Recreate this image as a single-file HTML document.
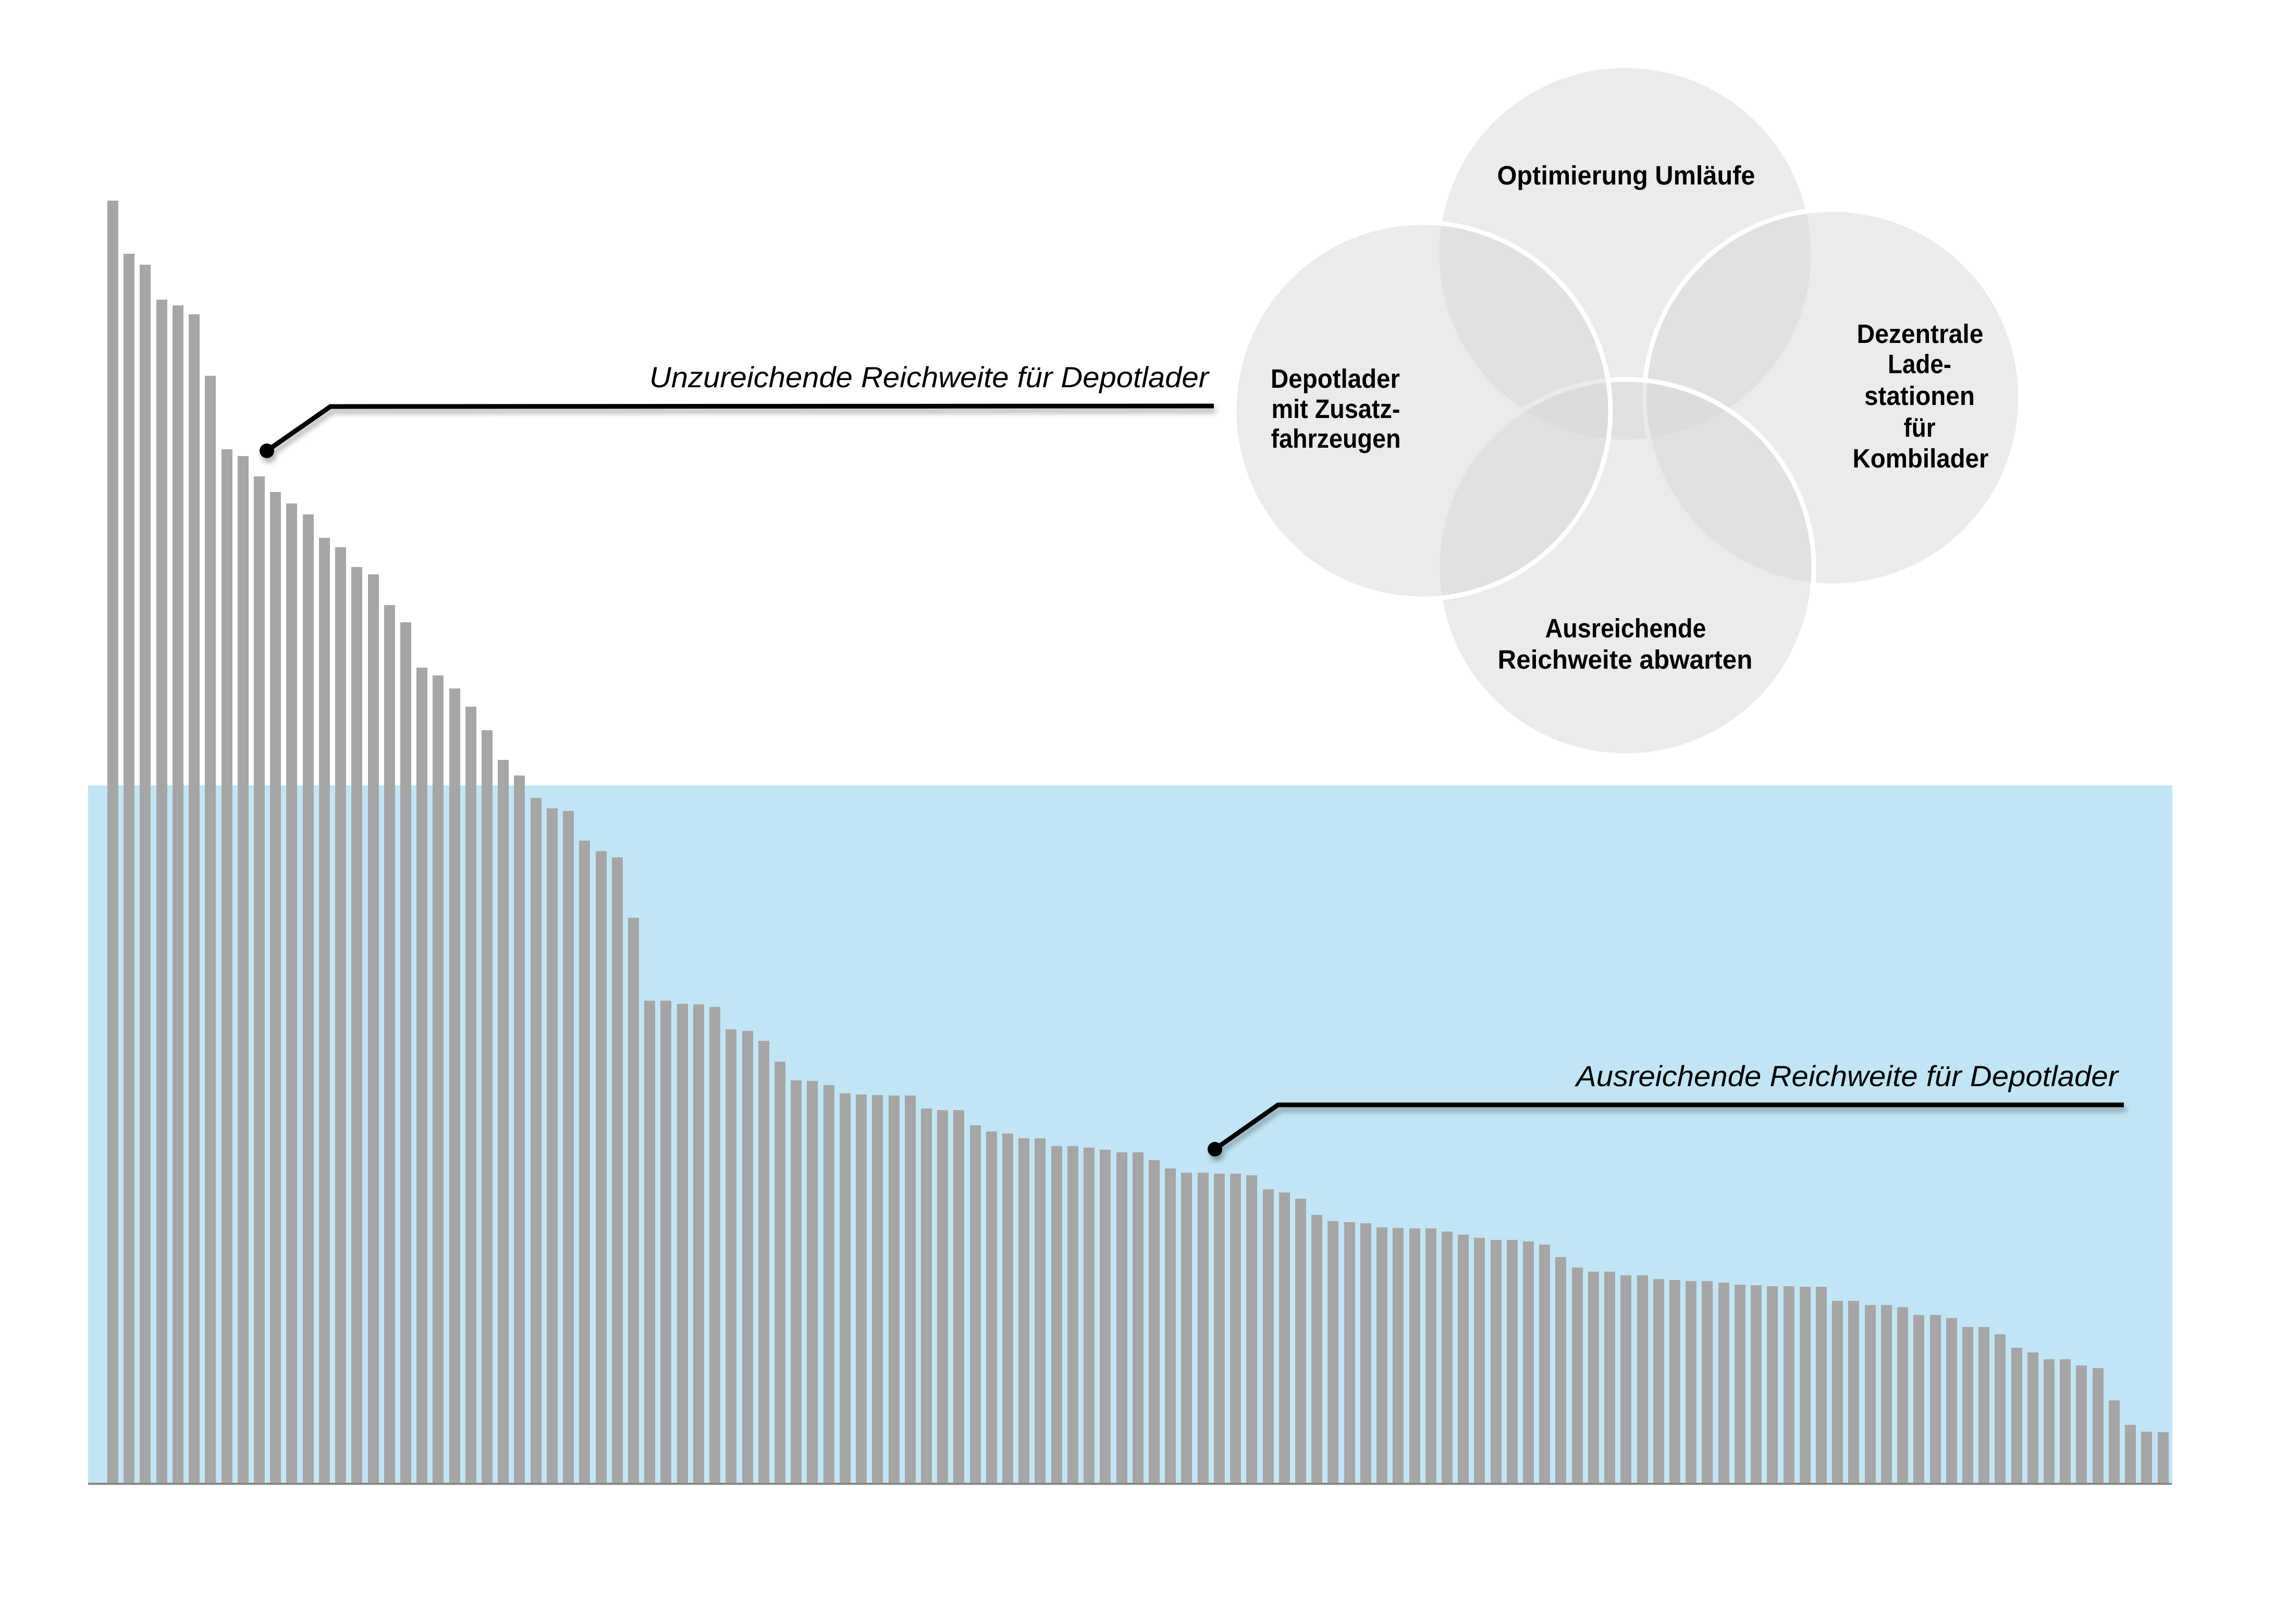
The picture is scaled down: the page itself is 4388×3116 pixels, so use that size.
<!DOCTYPE html>
<html>
<head>
<meta charset="utf-8">
<style>
  html, body { margin:0; padding:0; background:#ffffff; }
  #page { position:relative; width:4388px; height:3116px; overflow:hidden; background:#ffffff; }
  #blue { position:absolute; left:169px; top:1507px; width:3999px; height:1339px; background:#c1e5f4; }
  #bars { position:absolute; left:206px; top:0; height:2846px; display:flex; align-items:flex-end; column-gap:10.22px; }
  #bars div { width:21px; flex:0 0 21px; background:#a6a6a6; }
  #axis { position:absolute; left:169px; top:2845px; width:3998px; height:3.5px; background:#888888; }
  svg { position:absolute; left:0; top:0; }
</style>
</head>
<body>
<div id="page">
  <div id="blue"></div>
  <div id="bars">
    <div style="height:2461px"></div><div style="height:2359px"></div><div style="height:2338px"></div><div style="height:2271px"></div><div style="height:2260px"></div>
    <div style="height:2243px"></div><div style="height:2125px"></div><div style="height:1984px"></div><div style="height:1971px"></div><div style="height:1932px"></div>
    <div style="height:1902px"></div><div style="height:1880px"></div><div style="height:1859px"></div><div style="height:1814px"></div><div style="height:1796px"></div>
    <div style="height:1758px"></div><div style="height:1744px"></div><div style="height:1685px"></div><div style="height:1652px"></div><div style="height:1565px"></div>
    <div style="height:1550px"></div><div style="height:1525px"></div><div style="height:1490px"></div><div style="height:1445px"></div><div style="height:1388px"></div>
    <div style="height:1358px"></div><div style="height:1315px"></div><div style="height:1295px"></div><div style="height:1290px"></div><div style="height:1233px"></div>
    <div style="height:1213px"></div><div style="height:1201px"></div><div style="height:1085px"></div><div style="height:926px"></div><div style="height:926px"></div>
    <div style="height:920px"></div><div style="height:919px"></div><div style="height:914px"></div><div style="height:871px"></div><div style="height:868px"></div>
    <div style="height:849px"></div><div style="height:809px"></div><div style="height:773px"></div><div style="height:772px"></div><div style="height:764px"></div>
    <div style="height:748px"></div><div style="height:746px"></div><div style="height:745px"></div><div style="height:744px"></div><div style="height:744px"></div>
    <div style="height:719px"></div><div style="height:716px"></div><div style="height:716px"></div><div style="height:687px"></div><div style="height:675px"></div>
    <div style="height:671px"></div><div style="height:662px"></div><div style="height:662px"></div><div style="height:647px"></div><div style="height:647px"></div>
    <div style="height:644px"></div><div style="height:640px"></div><div style="height:635px"></div><div style="height:635px"></div><div style="height:620px"></div>
    <div style="height:604px"></div><div style="height:596px"></div><div style="height:596px"></div><div style="height:594px"></div><div style="height:594px"></div>
    <div style="height:591px"></div><div style="height:564px"></div><div style="height:558px"></div><div style="height:546px"></div><div style="height:515px"></div>
    <div style="height:503px"></div><div style="height:501px"></div><div style="height:499px"></div><div style="height:491px"></div><div style="height:490px"></div>
    <div style="height:489px"></div><div style="height:489px"></div><div style="height:483px"></div><div style="height:477px"></div><div style="height:471px"></div>
    <div style="height:467px"></div><div style="height:467px"></div><div style="height:464px"></div><div style="height:458px"></div><div style="height:434px"></div>
    <div style="height:414px"></div><div style="height:406px"></div><div style="height:406px"></div><div style="height:399px"></div><div style="height:399px"></div>
    <div style="height:392px"></div><div style="height:390px"></div><div style="height:388px"></div><div style="height:388px"></div><div style="height:385px"></div>
    <div style="height:381px"></div><div style="height:380px"></div><div style="height:378px"></div><div style="height:378px"></div><div style="height:377px"></div>
    <div style="height:377px"></div><div style="height:350px"></div><div style="height:350px"></div><div style="height:342px"></div><div style="height:342px"></div>
    <div style="height:338px"></div><div style="height:323px"></div><div style="height:323px"></div><div style="height:317px"></div><div style="height:300px"></div>
    <div style="height:300px"></div><div style="height:286px"></div><div style="height:260px"></div><div style="height:251px"></div><div style="height:238px"></div>
    <div style="height:238px"></div><div style="height:226px"></div><div style="height:221px"></div><div style="height:159px"></div><div style="height:112px"></div>
    <div style="height:99px"></div><div style="height:98px"></div>
  </div>
  <div id="axis"></div>

  <svg width="4388" height="3116" viewBox="0 0 4388 3116" xmlns="http://www.w3.org/2000/svg">
    <defs>
      <filter id="sh" x="-5%" y="-50%" width="110%" height="200%">
        <feDropShadow dx="4" dy="9" stdDeviation="5" flood-color="#000" flood-opacity="0.3"/>
      </filter>
    </defs>

    <!-- Venn circles: order top, right, bottom, left -->
    <g fill="#d7d7d7" fill-opacity="0.5" stroke="#ffffff" stroke-width="9">
      <circle cx="3118" cy="487" r="361"/>
      <circle cx="3516" cy="763" r="361"/>
      <circle cx="3119" cy="1089" r="361"/>
      <circle cx="2729" cy="788" r="361"/>
    </g>

    <g font-family="'Liberation Sans', sans-serif" font-weight="bold" font-size="51" fill="#000" text-anchor="middle">
      <text x="3120" y="354" textLength="495" lengthAdjust="spacingAndGlyphs">Optimierung Umläufe</text>
      <text x="2562" y="744" textLength="248" lengthAdjust="spacingAndGlyphs">Depotlader</text>
      <text x="2563" y="802" textLength="247" lengthAdjust="spacingAndGlyphs">mit Zusatz-</text>
      <text x="2563" y="859" textLength="249" lengthAdjust="spacingAndGlyphs">fahrzeugen</text>
      <text x="3684" y="658" textLength="243" lengthAdjust="spacingAndGlyphs">Dezentrale</text>
      <text x="3683" y="716" textLength="122" lengthAdjust="spacingAndGlyphs">Lade-</text>
      <text x="3683" y="777" textLength="212" lengthAdjust="spacingAndGlyphs">stationen</text>
      <text x="3683" y="838" textLength="61" lengthAdjust="spacingAndGlyphs">für</text>
      <text x="3685" y="897" textLength="261" lengthAdjust="spacingAndGlyphs">Kombilader</text>
      <text x="3119" y="1223" textLength="309" lengthAdjust="spacingAndGlyphs">Ausreichende</text>
      <text x="3118" y="1283" textLength="489" lengthAdjust="spacingAndGlyphs">Reichweite abwarten</text>
    </g>

    <!-- Callout labels -->
    <g font-family="'Liberation Sans', sans-serif" font-style="italic" font-size="56" fill="#000">
      <text x="1246" y="743" textLength="1073" lengthAdjust="spacingAndGlyphs">Unzureichende Reichweite für Depotlader</text>
      <text x="3024" y="2084" textLength="1040" lengthAdjust="spacingAndGlyphs">Ausreichende Reichweite für Depotlader</text>
    </g>

    <!-- Callout lines -->
    <g filter="url(#sh)">
      <polyline points="512,865 634,780 2329,779" fill="none" stroke="#000" stroke-width="9" stroke-linejoin="round"/>
      <circle cx="512" cy="865" r="14" fill="#000"/>
    </g>
    <g filter="url(#sh)">
      <polyline points="2331,2205 2452,2120 4075,2120" fill="none" stroke="#000" stroke-width="9" stroke-linejoin="round"/>
      <circle cx="2331" cy="2205" r="14" fill="#000"/>
    </g>
  </svg>
</div>
</body>
</html>
